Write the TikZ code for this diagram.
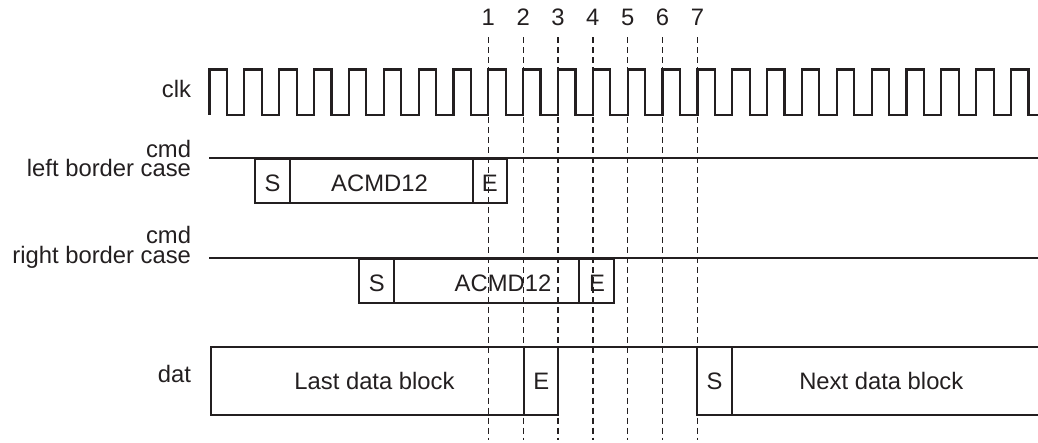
\documentclass[tikz,border=0pt]{standalone}
\usepackage{fontspec}
\setmainfont{Liberation Sans}
\definecolor{ink}{RGB}{35,31,32}
\begin{document}
\begin{tikzpicture}[x=1pt,y=-1pt,
  font=\fontsize{23.8}{19.5}\selectfont,
  sig/.style={draw=ink, line width=2.2pt},
  bx/.style={draw=ink, line width=2.2pt, rectangle, inner sep=0pt, outer sep=0pt, anchor=north west},
  txt/.style={inner sep=0pt, outer sep=0pt, anchor=base, text=ink},
  lbl/.style={inner sep=0pt, outer sep=0pt, text=ink, align=right},
  dashln/.style={draw=ink, line width=1.3pt, dash pattern=on 6pt off 4pt}]
\useasboundingbox (0,0) rectangle (1038,443);

% labels
\node[lbl, anchor=base east] (clk) at (191,97.3) {clk};
\node[lbl, anchor=east] (cmdl) at (191,158.6) {cmd\\left border case};
\node[lbl, anchor=east] (cmdr) at (191,247.2) {cmd\\right border case};
\node[lbl, anchor=base east] (dat) at (191,382.7) {dat};

% clock
\draw[sig, line join=miter] (209.5,115)
  \foreach \k in {0,...,23} {
    -- ({209.5+\k*34.85},115) -- ({209.5+\k*34.85},69.5)
    -- ({226.9+\k*34.85},69.5) -- ({226.9+\k*34.85},115)
  } -- (1040,115);

% cmd left border case
\coordinate (la) at (209,158.3);
\coordinate (lb) at (1040,158.3);
\draw[sig] (la) -- (lb);
\node[bx, minimum width=35pt, minimum height=44pt] (lS) at (255,159.3) {};
\node[bx, minimum width=183.3pt, minimum height=44pt] (lA) at (290,159.3) {};
\node[bx, minimum width=34pt, minimum height=44pt] (lE) at (473.3,159.3) {};
\node[txt] (lSt) at (272.5,191.7) {S};
\node[txt] (lAt) at (379.5,191.7) {ACMD12};
\node[txt] (lEt) at (489.8,191.7) {E};

% cmd right border case
\coordinate (ra) at (209,258.3);
\coordinate (rb) at (1040,258.3);
\draw[sig] (ra) -- (rb);
\node[bx, minimum width=35.3pt, minimum height=43.7pt] (rS) at (359,259.3) {};
\node[bx, minimum width=185pt, minimum height=43.7pt] (rA) at (394.3,259.3) {};
\node[bx, minimum width=34.7pt, minimum height=43.7pt] (rE) at (579.3,259.3) {};
\node[txt] (rSt) at (376.7,291.7) {S};
\node[txt] (rAt) at (503,291.7) {ACMD12};
\node[txt] (rEt) at (597,291.7) {E};

% dat
\coordinate (da) at (211,347.3);
\coordinate (db) at (1040,347.3);
\draw[sig] (da) -- (db);
\node[bx, minimum width=313.3pt, minimum height=67.7pt] (dL) at (211,347.3) {};
\node[bx, minimum width=34pt, minimum height=67.7pt] (dE) at (524.3,347.3) {};
\node[bx, minimum width=34.4pt, minimum height=67.7pt] (dS) at (697.3,347.3) {};
\node[bx, minimum width=312pt, minimum height=67.7pt] (dN) at (731.7,347.3) {};
\node[txt] (dLt) at (374.5,389.5) {Last data block};
\node[txt] (dEt) at (541.3,389.5) {E};
\node[txt] (dSt) at (714.5,389.5) {S};
\node[txt] (dNt) at (881.3,389.5) {Next data block};

% time markers
\foreach \i in {1,...,7} {
  \coordinate (dt\i) at ({209.5+(7+\i)*34.85},37.5);
  \coordinate (dbm\i) at ({209.5+(7+\i)*34.85},440);
  \node[txt] (num\i) at ({209.5+(7+\i)*34.85},26) {\i};
  \draw[dashln] (dt\i) -- (dbm\i);
}
\end{tikzpicture}
\end{document}
